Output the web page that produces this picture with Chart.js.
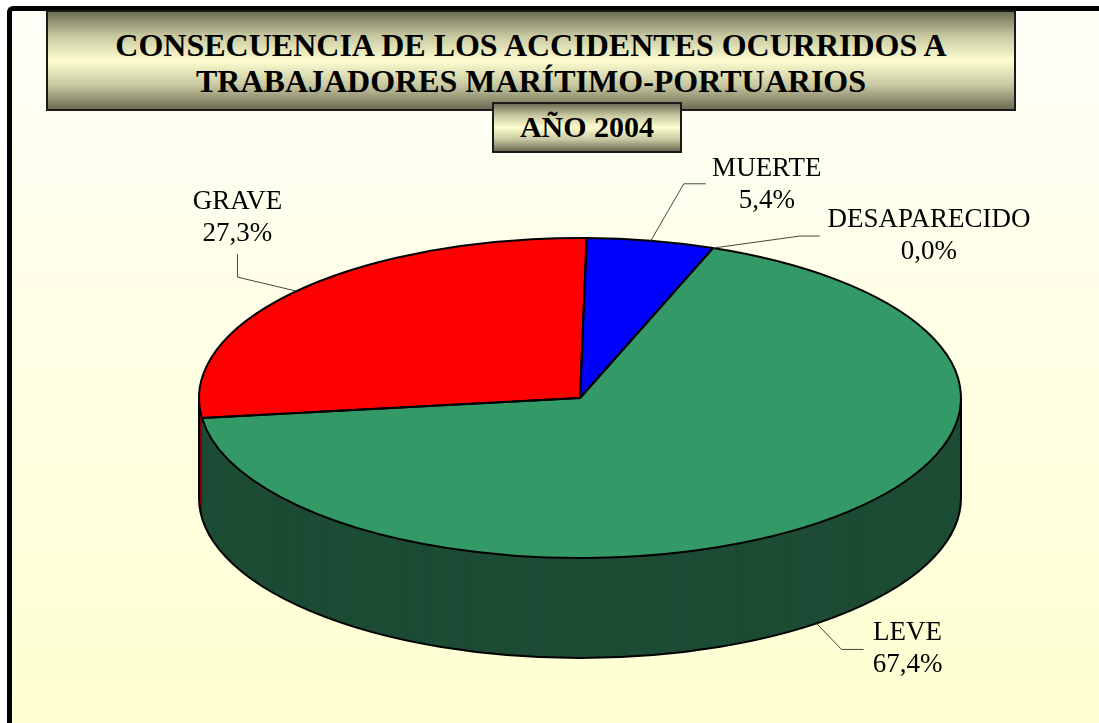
<!DOCTYPE html>
<html>
<head>
<meta charset="utf-8">
<script src="https://cdn.jsdelivr.net/npm/chart.js@4"></script>
<style>
  body { margin: 0; width: 1099px; height: 723px; overflow: hidden; background: #fff; position: relative; }
  #frame {
    position: absolute; left: 7px; top: 6px; width: 1200px; height: 800px;
    border-left: 5px solid #000; border-top: 5px solid #000; border-top-left-radius: 6px;
    background: linear-gradient(to bottom, #fffff8 0%, #ffffcc 100%);
  }
  #c { position: absolute; left: 0; top: 0; }
  .box {
    position: absolute; box-sizing: border-box; border: 2px solid #1a1a1a;
    background: linear-gradient(to bottom, #6f6f57 0%, #c9c9a2 25%, #fdfdd0 50%, #c9c9a2 75%, #6c6c54 100%);
    font-family: "Liberation Serif", serif; font-weight: bold; color: #000; text-align: center;
  }
  #title { left: 46px; top: 10px; width: 970px; height: 101px; font-size: 32px; line-height: 36px; padding-top: 15px; }
  #year { left: 492px; top: 102px; width: 190px; height: 51px; font-size: 30px; line-height: 46px; }
</style>
</head>
<body>
<div id="frame"></div>
<canvas id="c" width="1099" height="723"></canvas>
<div id="title" class="box">CONSECUENCIA DE LOS ACCIDENTES OCURRIDOS A<br>TRABAJADORES MARÍTIMO-PORTUARIOS</div>
<div id="year" class="box">AÑO 2004</div>
<script>
// Datos del gráfico (porcentajes)
const categories = ['MUERTE', 'DESAPARECIDO', 'LEVE', 'GRAVE'];
const percentages = [5.4, 0.0, 67.4, 27.3];

const topColors = ['#0000ff', '#ffff00', '#339966', '#ff0000'];
const sideColors = ['#000080', '#808000', '#1d4c35', '#800000'];

// posición de las etiquetas respecto al punto de anclaje de cada porción
const labelLayout = [
    { elbow: [33, -57], end: [55, -57], text: [116, -72] },
    { elbow: [87, -12], end: [107, -12], text: [216, -28] },
    { elbow: [25, 26], end: [47, 26], text: [91, 9] },
    { elbow: [-59, -14], end: [-59, -37], text: [-59, -89] }
];

const tilt = 160 / 381;  // aplastamiento vertical de la elipse
const depth = 100;       // grosor del pastel

const fmt = v => v.toFixed(1).replace('.', ',') + '%';

const pie3d = {
    id: 'pie3d',
    beforeDatasetsDraw(chart) {
        const ctx = chart.ctx;
        const arcs = chart.getDatasetMeta(0).data;
        const cx = arcs[0].x, cy = arcs[0].y;
        // lateral del pastel: copias desplazadas hacia abajo
        for (let d = depth; d >= 1; d--) {
            ctx.save();
            ctx.translate(cx, cy + d);
            ctx.scale(1, tilt);
            ctx.translate(-cx, -cy);
            arcs.forEach((arc, i) => {
                const opts = arc.options;
                arc.options = Object.assign({}, opts, { backgroundColor: sideColors[i], borderWidth: 0 });
                arc.draw(ctx);
                arc.options = opts;
            });
            ctx.restore();
        }
        // cara superior
        ctx.save();
        ctx.translate(cx, cy);
        ctx.scale(1, tilt);
        ctx.translate(-cx, -cy);
    },
    afterDatasetsDraw(chart) {
        const ctx = chart.ctx;
        ctx.restore();
        const arcs = chart.getDatasetMeta(0).data;
        const cx = arcs[0].x, cy = arcs[0].y, r = arcs[0].outerRadius;

        ctx.save();
        ctx.lineWidth = 2;
        ctx.strokeStyle = '#000';
        ctx.lineJoin = 'round';
        ctx.beginPath();
        ctx.moveTo(cx - r, cy);
        ctx.lineTo(cx - r, cy + depth);
        ctx.ellipse(cx, cy + depth, r, r * tilt, 0, Math.PI, 0, true);
        ctx.lineTo(cx + r, cy);
        ctx.stroke();
        arcs.forEach(arc => {
            if (arc.endAngle - arc.startAngle <= 0) return;
            ctx.beginPath();
            ctx.moveTo(cx, cy);
            ctx.ellipse(cx, cy, r, r * tilt, 0, arc.startAngle, arc.endAngle);
            ctx.closePath();
            ctx.stroke();
        });

        // etiquetas con líneas guía
        ctx.font = '27px "Liberation Serif"';
        ctx.textAlign = 'center';
        ctx.textBaseline = 'middle';
        ctx.fillStyle = '#000';
        arcs.forEach((arc, i) => {
            const mid = (arc.startAngle + arc.endAngle) / 2;
            const ax = cx + r * Math.cos(mid);
            const ay = cy + r * tilt * Math.sin(mid) + (Math.sin(mid) > 0 ? depth : 0);
            const L = labelLayout[i];
            ctx.strokeStyle = '#444';
            ctx.lineWidth = 1;
            ctx.beginPath();
            ctx.moveTo(ax, ay);
            ctx.lineTo(ax + L.elbow[0], ay + L.elbow[1]);
            ctx.lineTo(ax + L.end[0], ay + L.end[1]);
            ctx.stroke();
            ctx.fillText(categories[i], ax + L.text[0], ay + L.text[1]);
            ctx.fillText(fmt(percentages[i]), ax + L.text[0], ay + L.text[1] + 32);
        });
        ctx.restore();
    }
};

new Chart(document.getElementById('c'), {
    type: 'pie',
    data: {
        labels: categories,
        datasets: [{
            data: percentages,
            backgroundColor: topColors,
            borderWidth: 0,
            radius: 381,
            clip: false
        }]
    },
    options: {
        responsive: false,
        devicePixelRatio: 1,
        animation: false,
        events: [],
        rotation: 1,
        layout: { padding: { left: 61, right: 0, top: 73, bottom: 0 } },
        plugins: { legend: { display: false }, tooltip: { enabled: false } }
    },
    plugins: [pie3d]
});
</script>
</body>
</html>
